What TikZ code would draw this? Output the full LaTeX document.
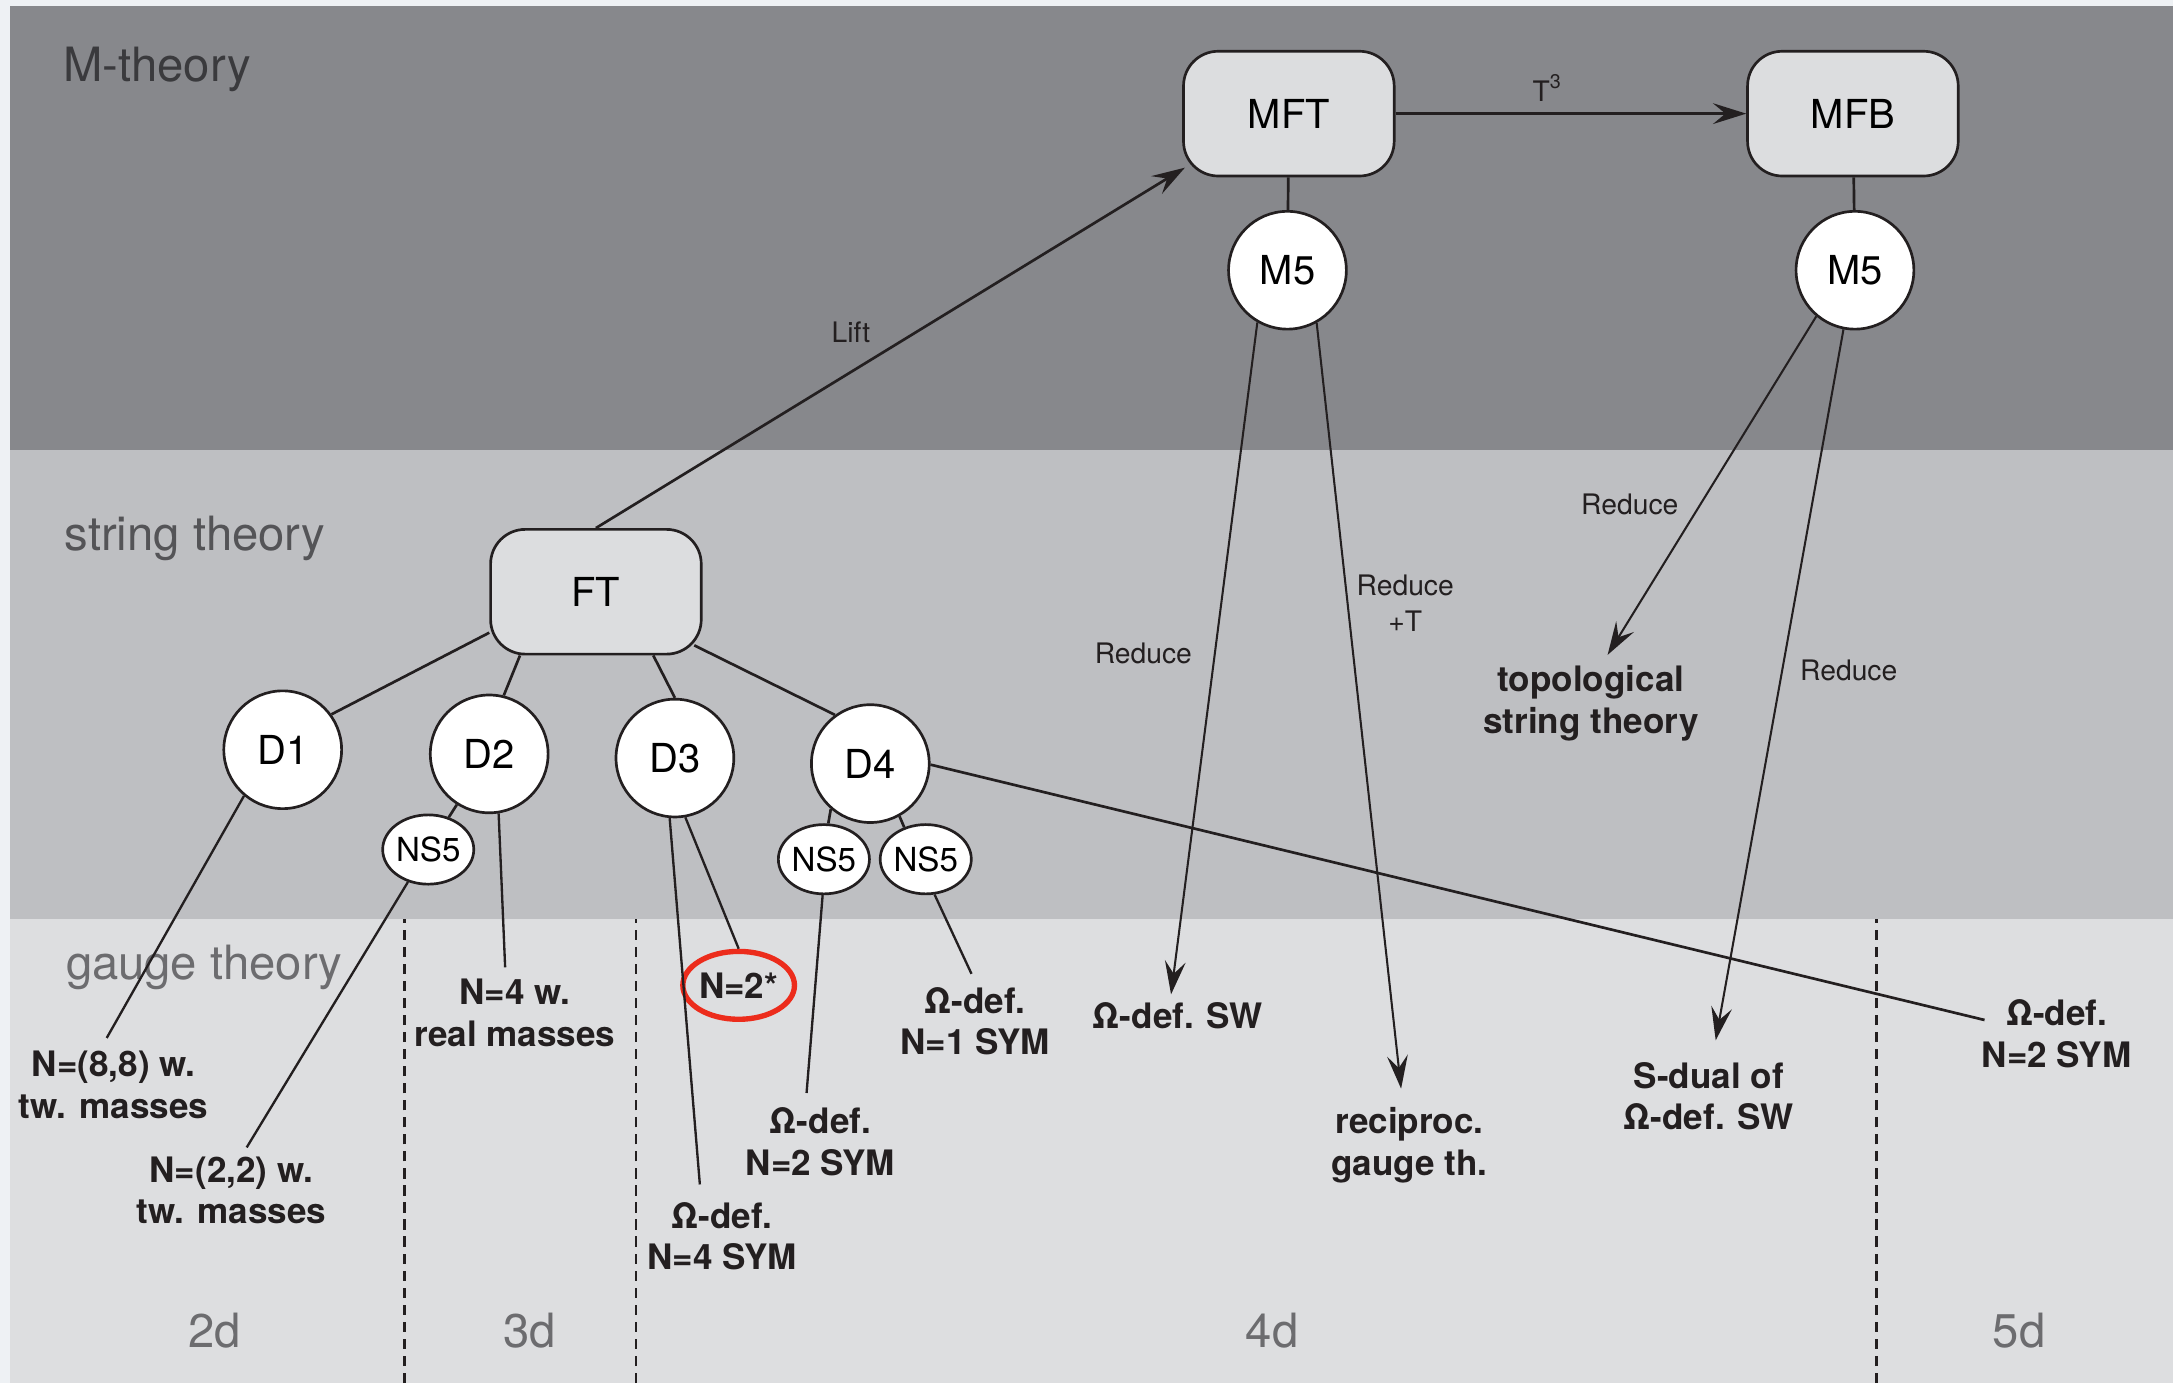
\documentclass[tikz,border=0pt]{standalone}
\usepackage{fontspec}
\setmainfont{TeX Gyre Heros}
\usetikzlibrary{arrows.meta,shapes.geometric}
\definecolor{pageBg}{RGB}{238,241,244}
\definecolor{mBand}{RGB}{135,136,140}
\definecolor{sBand}{RGB}{190,191,194}
\definecolor{gBand}{RGB}{221,222,224}
\definecolor{boxFill}{RGB}{220,221,223}
\definecolor{ink}{RGB}{35,31,32}
\definecolor{mText}{RGB}{58,58,61}
\definecolor{sText}{RGB}{84,84,87}
\definecolor{gText}{RGB}{108,108,111}
\definecolor{mAccent}{RGB}{236,44,28}
\tikzset{
  box/.style={rectangle, rounded corners=0.25cm, draw=ink, line width=0.55pt, fill=boxFill,
    minimum width=1.52cm, minimum height=0.9cm, inner sep=0pt, font=\fontsize{8.2}{9.8}\selectfont},
  brane/.style={circle, draw=ink, line width=0.55pt, fill=white, minimum size=0.85cm,
    inner sep=0pt, font=\fontsize{8.2}{9.8}\selectfont},
  fivebrane/.style={ellipse, draw=ink, line width=0.55pt, fill=white, minimum width=0.63cm,
    minimum height=0.5cm, inner sep=0pt, font=\fontsize{6.8}{8}\selectfont},
  theory/.style={align=center, inner sep=0pt, anchor=base, text=ink,
    font=\bfseries\fontsize{7.2}{8.5}\selectfont},
  oplabel/.style={align=center, inner sep=0pt, anchor=base, text=ink,
    font=\fontsize{5.8}{7.4}\selectfont},
  realm/.style={inner sep=0pt, anchor=base west, font=\fontsize{9.7}{11.6}\selectfont},
  dimlabel/.style={inner sep=0pt, anchor=base, text=gText, font=\fontsize{9.7}{11.6}\selectfont},
  link/.style={draw=ink, line width=0.55pt},
  leg/.style={draw=ink, line width=0.48pt},
  flow/.style={draw=ink, line width=0.42pt, -{Stealth[length=2.4mm,width=1.5mm,inset=0.9mm]}},
  lift/.style={draw=ink, line width=0.55pt, -{Stealth[length=2.4mm,width=1.5mm,inset=0.9mm]}},
}
\begin{document}
\begin{tikzpicture}
  \useasboundingbox (0,0) rectangle (15.68,9.98);
  % the three layers
  \fill[pageBg] (0,0) rectangle (15.68,9.98);
  \fill[gBand] (0.074,0) rectangle (15.68,3.35);
  \fill[sBand] (0.074,3.35) rectangle (15.68,6.73);
  \fill[mBand] (0.074,6.73) rectangle (15.68,9.937);
  \node[realm, text=mText] (mth) at (0.45,9.395) {M-theory};
  \node[realm, text=sText] (sth) at (0.46,6.01) {string theory};
  \node[realm, text=gText] (gth) at (0.47,2.91) {gauge theory};
  \foreach \x in {2.92,4.59,13.54}
    \draw[ink, line width=0.55pt, dash pattern=on 2.1pt off 1.4pt] (\x,0) -- (\x,3.35);
  \node[dimlabel] (d2d) at (1.55,0.26) {2d};
  \node[dimlabel] (d3d) at (3.82,0.26) {3d};
  \node[dimlabel] (d4d) at (9.18,0.26) {4d};
  \node[dimlabel] (d5d) at (14.57,0.26) {5d};

  % M-theory
  \node[box] (MFT) at (9.30,9.16) {MFT};
  \node[box] (MFB) at (13.37,9.16) {MFB};
  \node[brane] (M5a) at (9.29,8.03) {M5};
  \node[brane] (M5b) at (13.385,8.03) {M5};

  % string theory
  \node[box] (FT) at (4.30,5.71) {FT};
  \node[brane] (D1) at (2.04,4.57) {D1};
  \node[brane] (D2) at (3.53,4.54) {D2};
  \node[brane] (D3) at (4.87,4.51) {D3};
  \node[brane] (D4) at (6.28,4.47) {D4};
  \node[fivebrane] (ns2) at (3.09,3.85) {NS5};
  \node[fivebrane] (ns4a) at (5.945,3.78) {NS5};
  \node[fivebrane] (ns4b) at (6.68,3.78) {NS5};

  % gauge theories (base = last line)
  \node[theory] (q88) at (0.82,1.91) {N=(8,8) w.\\tw. masses};
  \node[theory] (q22) at (1.67,1.15) {N=(2,2) w.\\tw. masses};
  \node[theory] (q4m) at (3.715,2.43) {N=4 w.\\real masses};
  \node[theory] (q4s) at (5.21,0.82) {Ω-def.\\N=4 SYM};
  \node[ellipse, draw=mAccent, line width=1.1pt, minimum width=0.79cm, minimum height=0.49cm,
    inner sep=0pt, text=ink, font=\bfseries\fontsize{7.2}{8.5}\selectfont] (nstar) at (5.33,2.87) {N=2*};
  \node[theory] (q2s) at (5.92,1.50) {Ω-def.\\N=2 SYM};
  \node[theory] (q1s) at (7.035,2.37) {Ω-def.\\N=1 SYM};
  \node[theory] (qsw) at (8.50,2.56) {Ω-def. SW};
  \node[theory] (qrec) at (10.17,1.50) {reciproc.\\gauge th.};
  \node[theory] (qtop) at (11.48,4.69) {topological\\string theory};
  \node[theory] (qsd) at (12.33,1.83) {S-dual of\\Ω-def. SW};
  \node[theory] (q5d) at (14.84,2.28) {Ω-def.\\N=2 SYM};

  % operations
  \node[oplabel] (liftlab) at (6.14,7.51) {Lift};
  \node[oplabel] (t3lab) at (11.17,9.25) {T\textsuperscript{3}};
  \node[oplabel] (red1) at (8.25,5.19) {Reduce};
  \node[oplabel] (red2) at (10.14,5.42) {Reduce\\+T};
  \node[oplabel] (red3) at (11.76,6.27) {Reduce};
  \node[oplabel] (red4) at (13.34,5.07) {Reduce};

  \draw[lift] (FT.north) -- ([xshift=0.02cm,yshift=0.07cm]MFT.south west);
  \draw[lift] (MFT) -- (MFB);
  \draw[link] (MFT) -- (M5a);
  \draw[link] (MFB) -- (M5b);
  \draw[flow] (M5a.240) -- ([xshift=-0.05cm,yshift=0.05cm]qsw.north);
  \draw[flow] (M5a.299) -- ([xshift=-0.06cm,yshift=0.13cm]qrec.north);
  \draw[flow] (M5b.230) -- ([xshift=0.12cm,yshift=0.07cm]qtop.north);
  \draw[flow] (M5b.259) -- ([xshift=0.05cm,yshift=0.15cm]qsd.north);

  \draw[link] (FT.201) -- (D1.36);
  \draw[link] (FT.220) -- (D2.76);
  \draw[link] (FT.312) -- (D3.north);
  \draw[link] ([xshift=-0.06cm,yshift=0.04cm]FT.331) -- (D4.126);
  \draw[link] (D2) -- (ns2);
  \draw[link] (D4.229) -- (ns4a.83);
  \draw[link] (D4.299) -- (ns4b.124);

  \draw[leg] (D1.230) -- ([xshift=-0.05cm,yshift=0.09cm]q88.north);
  \draw[leg] (ns2.238) -- ([xshift=0.11cm,yshift=0.06cm]q22.north);
  \draw[leg] (D2.279) -- ([xshift=-0.07cm,yshift=0.08cm]q4m.north);
  \draw[leg] (D3.265) -- ([xshift=-0.16cm,yshift=0.12cm]q4s.north);
  \draw[leg] (D3.280) -- (nstar.north);
  \draw[leg] (ns4a.268) -- ([xshift=-0.10cm,yshift=0.10cm]q2s.north);
  \draw[leg] (ns4b.284) -- ([xshift=-0.025cm,yshift=0.09cm]q1s.north);
  \draw[link] (D4.359) -- ([xshift=-0.52cm,yshift=0.34cm]q5d.base);
\end{tikzpicture}
\end{document}
